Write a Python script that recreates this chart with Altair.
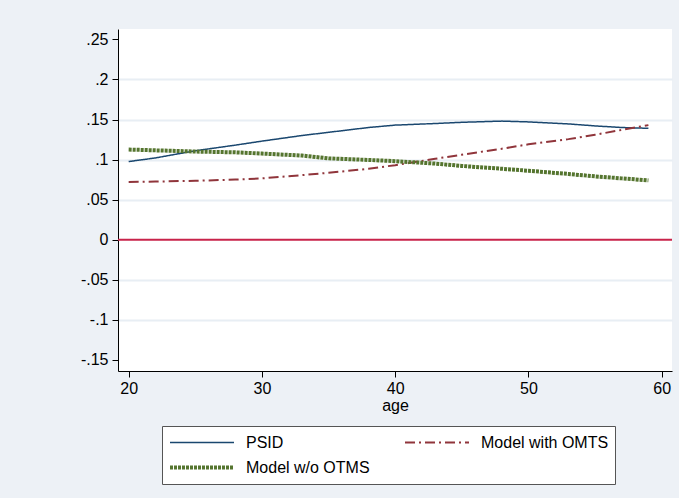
import altair as alt
import pandas as pd

ages = [20, 22, 25, 28, 30, 33, 35, 38, 40, 43, 45, 48, 50, 53, 55, 57, 59]
psid = [0.0975, 0.102, 0.111, 0.118, 0.123, 0.130, 0.134, 0.140, 0.143, 0.145,
        0.1465, 0.148, 0.147, 0.1445, 0.142, 0.140, 0.139]
model_with = [0.072, 0.0725, 0.0735, 0.075, 0.0765, 0.0805, 0.0835, 0.0885, 0.093,
              0.101, 0.106, 0.1135, 0.119, 0.1255, 0.131, 0.137, 0.143]
model_without = [0.1125, 0.1115, 0.110, 0.109, 0.1075, 0.105, 0.1015, 0.0995, 0.098,
                 0.095, 0.092, 0.0885, 0.086, 0.082, 0.079, 0.0765, 0.074]

series_names = ["PSID", "Model w/o OTMS", "Model with OMTS"]
series_colors = ["#1a476f", "#55752f", "#90353b"]
series_dash = [[1, 0], [3, 1], [10, 4, 2, 4]]
series_width = [1.5, 4, 2]
y_ticks = [-0.15, -0.1, -0.05, 0, 0.05, 0.1, 0.15, 0.2, 0.25]
x_ticks = [20, 30, 40, 50, 60]
zero_line = [0]

rows = []
for name, vals in zip(["PSID", "Model with OMTS", "Model w/o OTMS"],
                      [psid, model_with, model_without]):
    for a, v in zip(ages, vals):
        rows.append({"age": a, "value": v, "series": name})
df = pd.DataFrame(rows)

FONT = "Liberation Sans"

x_scale = alt.Scale(domain=[19.2, 60.77], nice=False, zero=False)
y_scale = alt.Scale(domain=[-0.164, 0.263], nice=False, zero=False)

lines = alt.Chart(df).mark_line(strokeCap="butt").encode(
    x=alt.X("age:Q", scale=x_scale,
            axis=alt.Axis(values=x_ticks, title="age", grid=False, format="d",
                          labelFontSize=16, titleFontSize=16, titleFontWeight="normal",
                          labelFont=FONT, titleFont=FONT, labelColor="black", titleColor="black",
                          domainColor="black", tickColor="black", tickSize=6,
                          labelPadding=3, titlePadding=1, labelFlush=False)),
    y=alt.Y("value:Q", scale=y_scale,
            axis=alt.Axis(values=y_ticks, title=None,
                          labelExpr="datum.value == 0 ? '0' : replace(toString(datum.value), '0.', '.')",
                          labelFontSize=16, labelFont=FONT, labelColor="black",
                          domainColor="black", tickColor="black", tickSize=6,
                          labelPadding=4, labelFlush=False,
                          grid=True, gridColor="#e8eef4", gridWidth=2,
                          gridOpacity={"condition": {"test": "datum.value == 0.25 || datum.value == -0.15 || datum.value == 0", "value": 0}, "value": 1})),
    color=alt.Color("series:N",
                    scale=alt.Scale(domain=series_names, range=series_colors),
                    legend=alt.Legend(title=None, orient="none", legendX=44, legendY=397,
                                      columns=2, columnPadding=33, rowPadding=4,
                                      clipHeight=21, symbolType="stroke", symbolSize=4096,
                                      labelOffset=10, labelFontSize=16, labelFont=FONT,
                                      labelColor="black", fillColor="white",
                                      strokeColor="#555555", padding=6, labelLimit=300)),
    strokeDash=alt.StrokeDash("series:N",
                              scale=alt.Scale(domain=series_names, range=series_dash),
                              legend=alt.Legend(title=None)),
    strokeWidth=alt.StrokeWidth("series:N",
                                scale=alt.Scale(type="ordinal", domain=series_names,
                                                range=series_width),
                                legend=alt.Legend(title=None)),
    order=alt.Order("age:Q"),
)

zero = alt.Chart(pd.DataFrame({"y": zero_line})).mark_rule(color="#c8234a", strokeWidth=2).encode(
    y=alt.Y("y:Q", scale=y_scale)
)

chart = alt.layer(zero, lines).properties(
    width=554, height=342,
    autosize=alt.AutoSizeParams(type="none"),
    padding={"left": 118, "top": 29, "right": 7, "bottom": 127},
    background="#edf1f6",
).configure_view(fill="white", stroke=None)

chart.save("out.html", embed_options={"renderer": "svg", "actions": False})
